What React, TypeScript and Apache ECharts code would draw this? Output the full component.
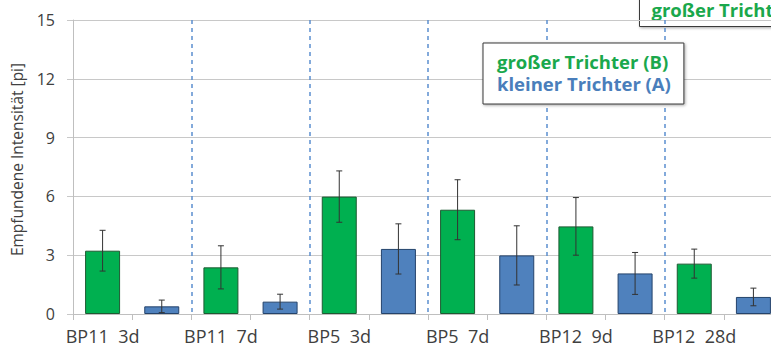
import React, { useEffect, useRef } from "react";
import * as echarts from "echarts";

const groups = ["BP11  3d", "BP11  7d", "BP5  3d", "BP5  7d", "BP12  9d", "BP12  28d"];
const seriesNames = ["großer Trichter (B)", "kleiner Trichter (A)"];
const largeFunnel = [3.23, 2.38, 5.99, 5.32, 4.47, 2.57];
const largeFunnelSd = [1.04, 1.1, 1.31, 1.53, 1.47, 0.74];
const smallFunnel = [0.39, 0.63, 3.32, 2.99, 2.07, 0.87];
const smallFunnelSd = [0.32, 0.38, 1.28, 1.51, 1.07, 0.45];
const yTicks = [0, 3, 6, 9, 12, 15];

const GREEN = "#00b050";
const BLUE = "#4f81bd";
const FONT = "Open Sans";

export default function App() {
  const ref = useRef<HTMLDivElement>(null);
  useEffect(() => {
    if (!ref.current) return;
    document.body.style.margin = "0";
    const chart = echarts.init(ref.current, undefined, { renderer: "svg" });
    const categories: string[] = [];
    const greenData: (number | null)[] = [];
    const blueData: (number | null)[] = [];
    const errData: number[][] = [];
    groups.forEach((g, i) => {
      categories.push(g + "|B");
      categories.push(g + "|A");
      greenData.push(largeFunnel[i]);
      greenData.push(null);
      blueData.push(null);
      blueData.push(smallFunnel[i]);
      errData.push([2 * i, largeFunnel[i] - largeFunnelSd[i], largeFunnel[i] + largeFunnelSd[i]]);
      errData.push([2 * i + 1, smallFunnel[i] - smallFunnelSd[i], smallFunnel[i] + smallFunnelSd[i]]);
    });
    chart.setOption({
      animation: false,
      textStyle: { fontFamily: FONT },
      grid: { left: 73, top: 20, width: 710, height: 294, outerBoundsMode: "none", containLabel: false },
      legend: {
        orient: "vertical",
        left: 483,
        top: 43,
        padding: [7, 13, 10, 9],
        itemWidth: 0,
        itemHeight: 0,
        itemGap: 0,
        icon: "none",
        selectedMode: false,
        backgroundColor: "#ffffff",
        borderColor: "#3a3a3a",
        borderWidth: 1,
        borderRadius: 0,
        shadowColor: "rgba(0,0,0,0.35)",
        shadowBlur: 3,
        shadowOffsetX: 1,
        shadowOffsetY: 1,
        textStyle: { fontSize: 18.5, fontWeight: "bold", fontFamily: FONT, lineHeight: 22 },
        data: [
          { name: seriesNames[0], textStyle: { color: "#1aa84c" } },
          { name: seriesNames[1], textStyle: { color: "#4a7ebb" } },
        ],
      },
      graphic: [
        {
          type: "group",
          left: 639,
          top: -10,
          children: [
            {
              type: "rect",
              shape: { x: 0, y: 0, width: 280, height: 36 },
              style: {
                fill: "#ffffff",
                stroke: "#3a3a3a",
                lineWidth: 1,
                shadowColor: "rgba(0,0,0,0.35)",
                shadowBlur: 3,
                shadowOffsetX: 1,
                shadowOffsetY: 1,
              },
            },
            {
              type: "text",
              x: 12,
              y: 9,
              style: {
                text: seriesNames[0],
                fill: "#1aa84c",
                font: `bold 18.5px "${FONT}"`,
              },
            },
          ],
        },
      ],
      xAxis: {
        type: "category",
        data: categories,
        axisLine: { lineStyle: { color: "#bfbfbf" } },
        axisTick: { show: true, length: 6, lineStyle: { color: "#bfbfbf" } },
        axisLabel: {
          interval: 0,
          margin: 13,
          fontSize: 18,
          color: "#404040",
          fontFamily: FONT,
          formatter: (v: string, i: number) => (i % 2 === 0 ? v.split("|")[0] : ""),
        },
        splitLine: {
          show: true,
          interval: (i: number) => i % 2 === 0 && i > 0,
          lineStyle: { color: "#5b8fd0", type: [4, 4], width: 1.5 },
        },
      },
      yAxis: {
        type: "value",
        min: yTicks[0],
        max: yTicks[yTicks.length - 1],
        interval: 3,
        name: "Empfundene Intensität [pi]",
        nameLocation: "middle",
        nameGap: 48,
        nameRotate: 90,
        nameTextStyle: { fontSize: 15.5, color: "#404040", fontFamily: FONT, padding: [0, 0, 0, 15] },
        axisLine: { show: true, lineStyle: { color: "#bfbfbf" } },
        axisTick: { show: true, length: 6, lineStyle: { color: "#c8c8c8" } },
        axisLabel: { margin: 18, fontSize: 16, color: "#404040", fontFamily: FONT },
        splitLine: { lineStyle: { color: "#c8c8c8" } },
      },
      series: [
        {
          name: seriesNames[0],
          type: "bar",
          data: greenData,
          barWidth: 35,
          barGap: "-100%",
          itemStyle: { color: GREEN, borderColor: "#1e5a32", borderWidth: 1 },
        },
        {
          name: seriesNames[1],
          type: "bar",
          data: blueData,
          barWidth: 35,
          barGap: "-100%",
          itemStyle: { color: BLUE, borderColor: "#24436b", borderWidth: 1 },
        },
        {
          type: "custom",
          data: errData,
          z: 10,
          renderItem: (params: any, api: any) => {
            const x = api.value(0);
            const lo = api.coord([x, api.value(1)]);
            const hi = api.coord([x, api.value(2)]);
            const w = 3;
            const style = { stroke: "#333333", lineWidth: 1 };
            return {
              type: "group",
              children: [
                { type: "line", shape: { x1: hi[0], y1: hi[1], x2: lo[0], y2: lo[1] }, style },
                { type: "line", shape: { x1: hi[0] - w, y1: hi[1], x2: hi[0] + w, y2: hi[1] }, style },
                { type: "line", shape: { x1: lo[0] - w, y1: lo[1], x2: lo[0] + w, y2: lo[1] }, style },
              ],
            };
          },
        },
      ],
    });
    return () => chart.dispose();
  }, []);
  return <div ref={ref} style={{ width: 771, height: 344 }} />;
}
